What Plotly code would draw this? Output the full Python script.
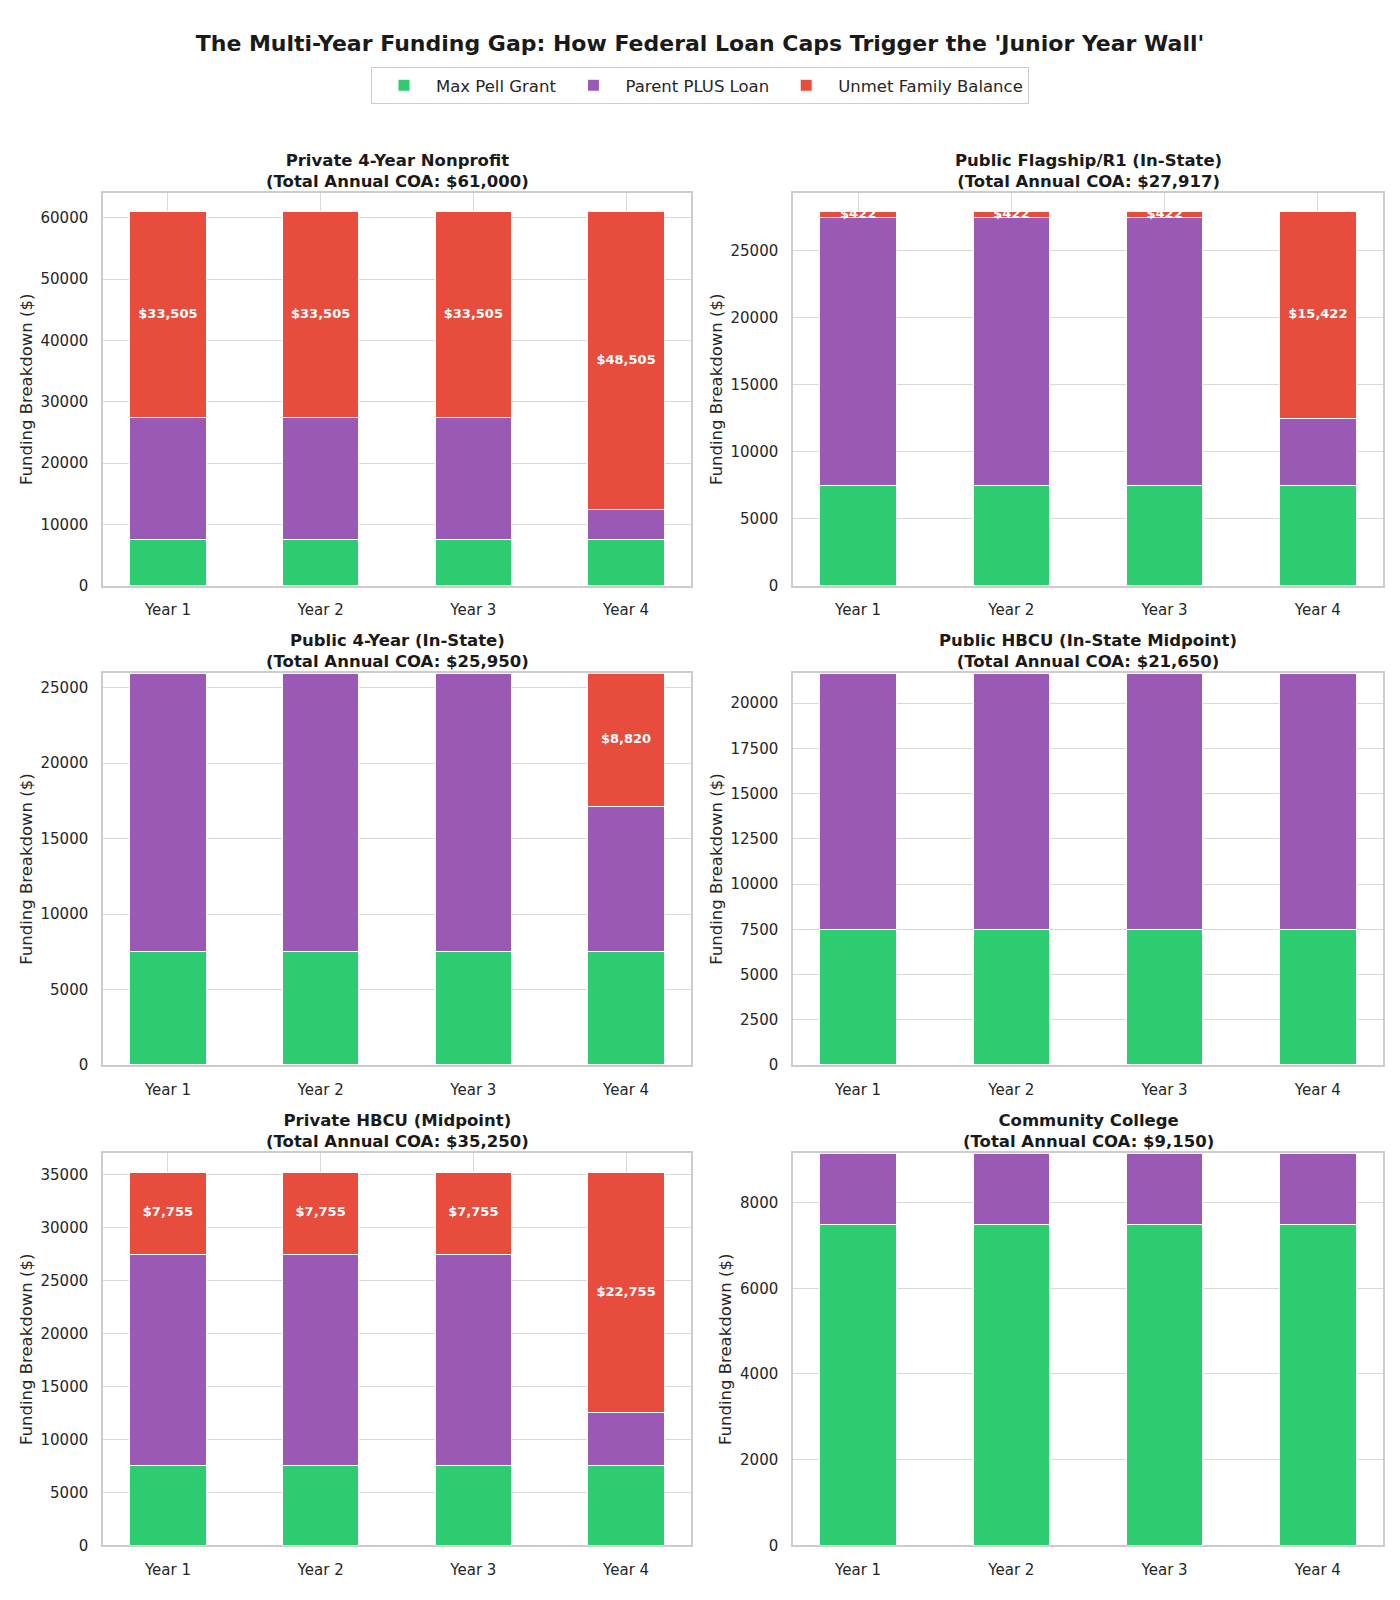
import plotly.graph_objects as go
from plotly.subplots import make_subplots

years = ["Year 1", "Year 2", "Year 3", "Year 4"]

panel_names = [
    "Private 4-Year Nonprofit",
    "Public Flagship/R1 (In-State)",
    "Public 4-Year (In-State)",
    "Public HBCU (In-State Midpoint)",
    "Private HBCU (Midpoint)",
    "Community College",
]
coa = [61000, 27917, 25950, 21650, 35250, 9150]

pell = [
    [7495, 7495, 7495, 7495],
    [7495, 7495, 7495, 7495],
    [7495, 7495, 7495, 7495],
    [7495, 7495, 7495, 7495],
    [7495, 7495, 7495, 7495],
    [7495, 7495, 7495, 7495],
]
plus = [
    [20000, 20000, 20000, 5000],
    [20000, 20000, 20000, 5000],
    [18455, 18455, 18455, 9635],
    [14155, 14155, 14155, 14155],
    [20000, 20000, 20000, 5000],
    [1655, 1655, 1655, 1655],
]
unmet = [
    [33505, 33505, 33505, 48505],
    [422, 422, 422, 15422],
    [0, 0, 0, 8820],
    [0, 0, 0, 0],
    [7755, 7755, 7755, 22755],
    [0, 0, 0, 0],
]

y_max = [64050, 29313, 25950, 21650, 37012, 9150]
y_dtick = [10000, 5000, 5000, 2500, 5000, 2000]

GREEN = "#2ecc71"
PURPLE = "#9b59b6"
RED = "#e74c3c"
FONT = "DejaVu Sans"
TXT = "#262626"

fig = make_subplots(rows=3, cols=2)

x_domains = [[103 / 1400, 691 / 1400], [793 / 1400, 1383 / 1400]]
y_domains = [
    [1 - 589 / 1600, 1 - 194 / 1600],
    [1 - 1071 / 1600, 1 - 677 / 1600],
    [1 - 1554 / 1600, 1 - 1160 / 1600],
]

for i in range(6):
    r, c = i // 2 + 1, i % 2 + 1
    show = i == 0
    fig.add_trace(go.Bar(x=years, y=pell[i], name="Max Pell Grant", marker=dict(color=GREEN, line=dict(color="white", width=1)),
                         showlegend=show, legendgroup="pell"), row=r, col=c)
    fig.add_trace(go.Bar(x=years, y=plus[i], name="Parent PLUS Loan", marker=dict(color=PURPLE, line=dict(color="white", width=1)),
                         showlegend=show, legendgroup="plus"), row=r, col=c)
    fig.add_trace(go.Bar(x=years, y=unmet[i], name="Unmet Family Balance", marker=dict(color=RED, line=dict(color="white", width=1)),
                         showlegend=show, legendgroup="unmet"), row=r, col=c)
    tx, ty, tt = [], [], []
    for j in range(4):
        if unmet[i][j] > 0:
            tx.append(years[j])
            ty.append(pell[i][j] + plus[i][j] + unmet[i][j] / 2)
            tt.append(f"<b>${unmet[i][j]:,}</b>")
    if tx:
        fig.add_trace(go.Scatter(x=tx, y=ty, text=tt, mode="text", textposition="middle center",
                                 textfont=dict(color="white", size=13, family=FONT),
                                 showlegend=False, hoverinfo="skip"), row=r, col=c)
    idx = i + 1
    xa = "xaxis" if idx == 1 else f"xaxis{idx}"
    ya = "yaxis" if idx == 1 else f"yaxis{idx}"
    fig.layout[xa].update(domain=x_domains[c - 1], range=[-0.425, 3.425], showgrid=True, gridcolor="#d9d9d9",
                          showline=True, mirror=True, linecolor="#cccccc", linewidth=1.5,
                          tickfont=dict(size=15, color=TXT, family=FONT), ticks="", ticklabelstandoff=10,
                          layer="below traces")
    fig.layout[ya].update(domain=y_domains[r - 1], range=[0, y_max[i]], dtick=y_dtick[i], tickformat="d",
                          showgrid=True, gridcolor="#d9d9d9", zeroline=False,
                          showline=True, mirror=True, linecolor="#cccccc", linewidth=1.5,
                          tickfont=dict(size=15, color=TXT, family=FONT), ticks="", ticklabelstandoff=10,
                          title=dict(text="Funding Breakdown ($)", font=dict(size=16.5, color=TXT, family=FONT), standoff=4))
    xc = sum(x_domains[c - 1]) / 2
    fig.add_annotation(x=xc, y=y_domains[r - 1][1], xref="paper", yref="paper", xanchor="center", yanchor="bottom",
                       yshift=0, showarrow=False,
                       text=f"<b>{panel_names[i]}<br>(Total Annual COA: ${coa[i]:,})</b>",
                       font=dict(size=16.5, color="#1a1a1a", family=FONT))

fig.update_layout(
    width=1400, height=1600,
    margin=dict(l=0, r=0, t=0, b=0),
    barmode="stack", bargap=0.5,
    plot_bgcolor="white", paper_bgcolor="white",
    font=dict(family=FONT, color=TXT),
    title=dict(text="<b>The Multi-Year Funding Gap: How Federal Loan Caps Trigger the 'Junior Year Wall'</b>",
               x=0.5, xanchor="center", y=1 - 43 / 1600, yanchor="middle", font=dict(size=22, color="#1a1a1a", family=FONT)),
    legend=dict(orientation="h", x=0.5, xanchor="center", y=1 - 86 / 1600, yanchor="middle",
                bordercolor="#cccccc", borderwidth=1, font=dict(size=16.5, family=FONT, color=TXT), traceorder="normal",
                itemwidth=54),
)

fig.write_html("out.html")
